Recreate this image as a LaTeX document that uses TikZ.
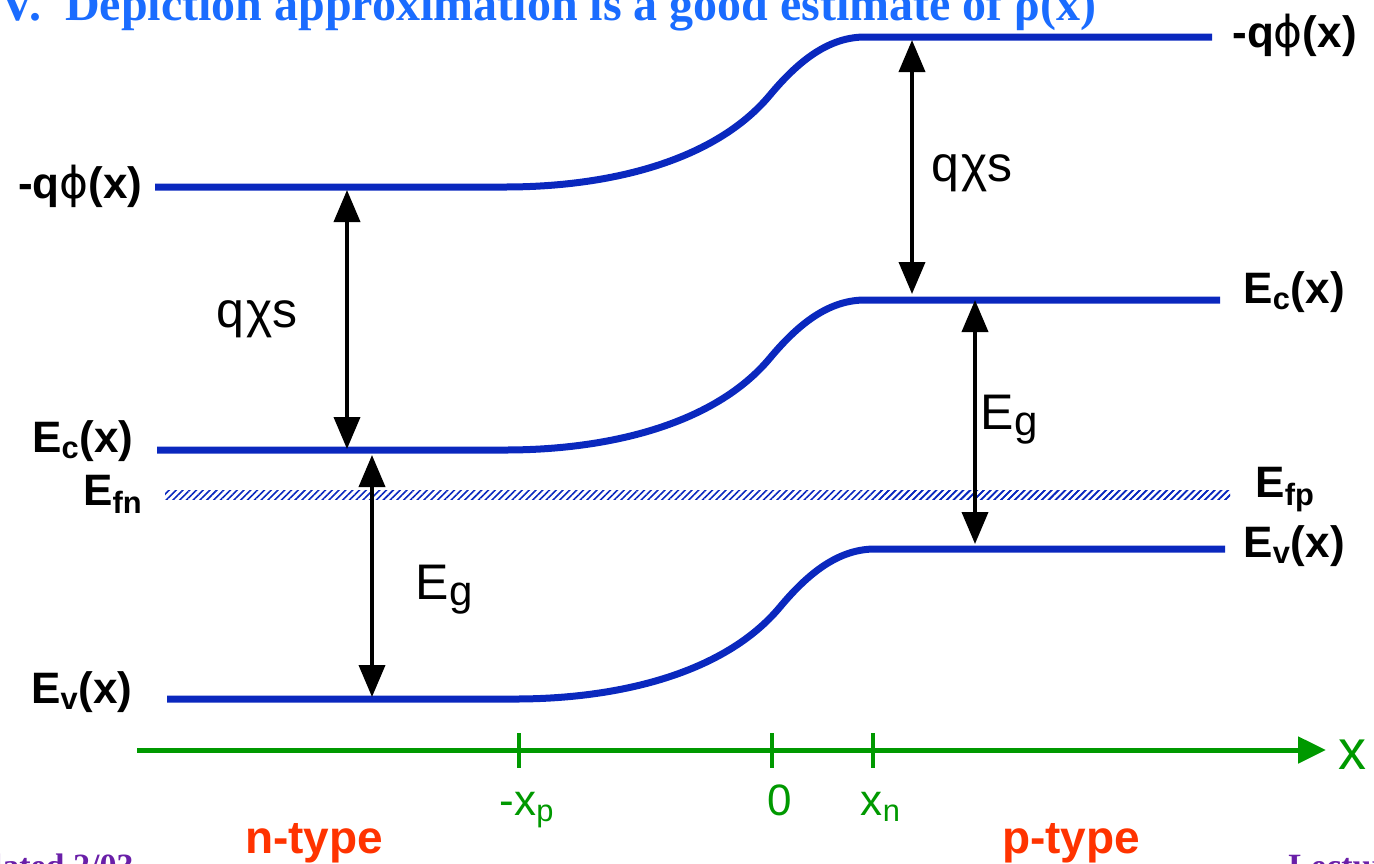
\documentclass[tikz,border=0pt]{standalone}
\usepackage{fontspec}
\setmainfont{Liberation Sans}
\newfontfamily\titlefont{Liberation Serif}
\newfontfamily\greekfont{DejaVu Sans}
\usetikzlibrary{arrows.meta,patterns.meta}
\definecolor{bandBlue}{HTML}{0A28BE}
\definecolor{titleBlue}{HTML}{1A6CFF}
\definecolor{axisGreen}{HTML}{009900}
\definecolor{typeRed}{HTML}{FF3300}
\definecolor{notePurple}{HTML}{6A1FA8}
\newcommand{\phix}{-q{\greekfont\mdseries ϕ}(x)}

\begin{document}
\begin{tikzpicture}[x=0.5pt, y=-0.5pt,
  band/.style={line width=3.5pt, color=bandBlue},
  fermi/.style={pattern={Lines[angle=45, distance=2.4pt, line width=0.8pt]}, pattern color=bandBlue},
  gap/.style={line width=1.9pt, {Triangle[length=16pt, width=13pt]}-{Triangle[length=16pt, width=13pt]}},
  lvl/.style={font=\fontsize{22}{24}\selectfont\bfseries, inner sep=0pt},
  gaplbl/.style={font=\fontsize{25}{27}\selectfont, inner sep=0pt},
  axlbl/.style={font=\fontsize{22}{24}\selectfont, text=axisGreen, inner sep=0pt},
  tick/.style={line width=2.2pt, color=axisGreen}]
  \useasboundingbox (0,0) rectangle (1374,863);
  \clip (0,0) rectangle (1374,863);

  % Title
  \node[anchor=base east, inner sep=0pt, text=titleBlue, font=\titlefont\fontsize{24}{26}\selectfont\bfseries] (title) at (1097,20) {IV.\ \ Depiction approximation is a good estimate of ρ(x)};

  % Fermi levels
  \fill[fermi] (165,490) rectangle (1230,499);
  \fill[fermi] (880,490) rectangle (1230,499);

  % Bands
  \draw[band] (155,187) -- (505,187) .. controls (610,187) and (715,161) .. (770,95) .. controls (800,59) and (830,37) .. (865,37) -- (1212,37);
  \draw[band, shift={(0,263)}] (157,187) -- (505,187) .. controls (610,187) and (715,161) .. (770,95) .. controls (800,59) and (830,37) .. (865,37) -- (1220,37);
  \draw[band, shift={(10,512)}] (157,187) -- (505,187) .. controls (610,187) and (715,161) .. (770,95) .. controls (800,59) and (830,37) .. (865,37) -- (1215,37);

  % Arrow ends on the bands
  \coordinate (nphi) at (347,190);
  \coordinate (ncA) at (347,449);
  \coordinate (ncB) at (372,455);
  \coordinate (nv) at (372,697);
  \coordinate (pphi) at (912,40);
  \coordinate (pcA) at (912,294);
  \coordinate (pcB) at (975,300);
  \coordinate (pv) at (975,544);

  \draw[gap] (nphi) -- (ncA) node[midway, gaplbl, xshift=-45pt] (chiN) {q\hspace{1pt}χs};
  \draw[gap] (ncB) -- (nv) node[midway, gaplbl, xshift=36pt, yshift=-7pt] (gapN) {E\raisebox{-3pt}{\fontsize{21}{23}\selectfont g}};
  \draw[gap] (pphi) -- (pcA) node[midway, gaplbl, xshift=30pt, yshift=-3pt] (chiP) {q\hspace{1pt}χs};
  \draw[gap] (pcB) -- (pv) node[midway, gaplbl, xshift=17pt, yshift=1pt] (gapP) {E\raisebox{-3pt}{\fontsize{21}{23}\selectfont g}};

  % Level names, n side
  \node[lvl, anchor=east] (nphiL) at (143,186) {\phix};
  \node[lvl, anchor=east] (ncL) at (134,441) {E\textsubscript{c}(x)};
  \node[lvl, anchor=east] (nfL) at (143,494) {E\textsubscript{fn}};
  \node[lvl, anchor=east] (nvL) at (133,692) {E\textsubscript{v}(x)};

  % Level names, p side
  \node[lvl, anchor=west] (pphiL) at (1232,35) {\phix};
  \node[lvl, anchor=west] (pcL) at (1243,292) {E\textsubscript{c}(x)};
  \node[lvl, anchor=west] (pfL) at (1255,490) {E\textsubscript{fp}};
  \node[lvl, anchor=west] (pvL) at (1243,546) {E\textsubscript{v}(x)};

  % Position axis
  \coordinate (axL) at (137,750);
  \coordinate (axR) at (1326,750);
  \draw[line width=2.5pt, axisGreen, -{Triangle[length=14pt, width=13pt]}] (axL) -- (axR);
  \node[axlbl, font=\fontsize{28}{30}\selectfont, anchor=west] (axX) at (1338,755) {x};
  \foreach \px/\nm/\txt in {519/xp/-x\textsubscript{p}, 772/zero/0, 873/xn/x\textsubscript{n}} {
    \draw[tick] (\px,733) -- (\px,768);
    \node[axlbl, anchor=base] (\nm) at (\px+8,815) {\txt};
  }

  % Regions
  \node[anchor=base, inner sep=0pt, text=typeRed, font=\fontsize{23}{25}\selectfont\bfseries] (ntype) at (314,853) {n-type};
  \node[anchor=base, inner sep=0pt, text=typeRed, font=\fontsize{23}{25}\selectfont\bfseries] (ptype) at (1071,853) {p-type};

  % Footer
  \node[anchor=base east, inner sep=0pt, text=notePurple, font=\titlefont\fontsize{17}{19}\selectfont\bfseries] (date) at (134,877) {Updated 2/03};
  \node[anchor=base west, inner sep=0pt, text=notePurple, font=\titlefont\fontsize{17}{19}\selectfont\bfseries] (lect) at (1288,877) {Lecture};
\end{tikzpicture}
\end{document}
